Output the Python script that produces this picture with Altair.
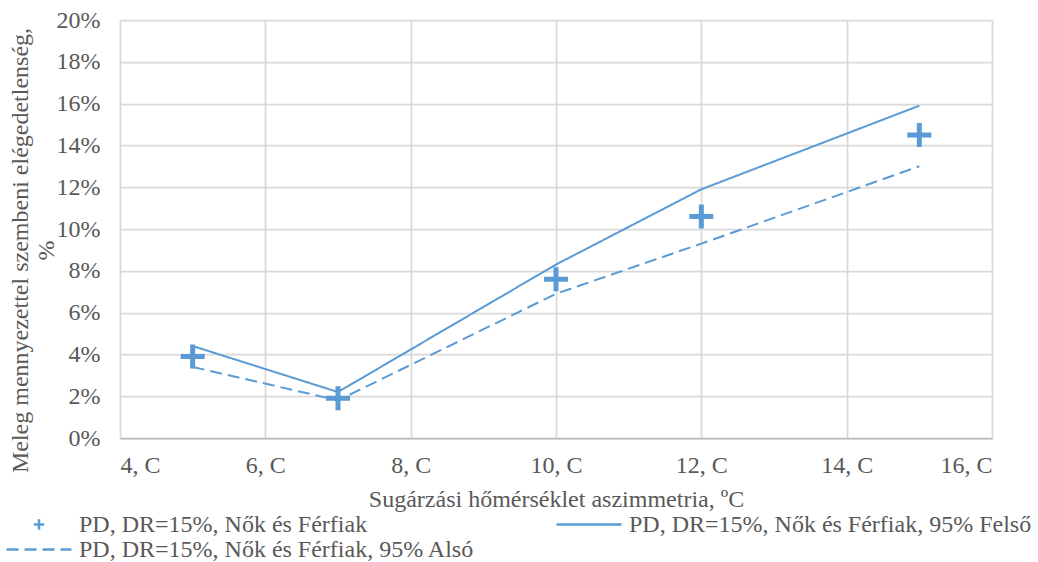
import altair as alt
import pandas as pd

# Radiant temperature asymmetry (°C) at which dissatisfaction was evaluated
asymmetry = [5, 7, 10, 12, 15]

# Percentage dissatisfied (%), measured values and 95% confidence bounds
pd_measured = [3.9, 1.9, 7.6, 10.6, 14.5]
pd_upper = [4.4, 2.2, 8.3, 11.9, 15.9]
pd_lower = [3.4, 1.8, 6.9, 9.3, 13.0]

series_names = [
    "PD, DR=15%, Nők és Férfiak",
    "PD, DR=15%, Nők és Férfiak, 95% Felső",
    "PD, DR=15%, Nők és Férfiak, 95% Alsó",
]
x_ticks = [4, 6, 8, 10, 12, 14, 16]
y_ticks = [0, 0.02, 0.04, 0.06, 0.08, 0.10, 0.12, 0.14, 0.16, 0.18, 0.20]

BLUE = "#5b9bd5"
FONT = "Liberation Serif"
TEXT = "#595959"
FS = 24
# thin plus drawn inside a small box so the legend glyph stays small
PLUS = "M-0.16,0H0.16M0,-0.16V0.16"

rows = []
for name, vals in zip(series_names, [pd_measured, pd_upper, pd_lower]):
    for xv, yv in zip(asymmetry, vals):
        rows.append({"x": xv, "y": yv / 100, "series": name})
df = pd.DataFrame(rows)

x_enc = alt.X(
    "x:Q",
    scale=alt.Scale(domain=[4, 16], nice=False),
    axis=alt.Axis(
        values=x_ticks,
        labelExpr="datum.value + ', C'",
        title="Sugárzási hőmérséklet aszimmetria, ºC",
        titlePadding=10,
        labelPadding=15,
    ),
)
y_enc = alt.Y(
    "y:Q",
    scale=alt.Scale(domain=[0, 0.2], nice=False),
    axis=alt.Axis(
        values=y_ticks,
        format=".0%",
        title=["Meleg mennyezettel szembeni elégedetlenség,", "%"],
        titleX=-100,
        titleY=230,
        titleAngle=270,
        titleAlign="center",
        titleBaseline="middle",
        titleLineHeight=26,
        labelPadding=20,
        domain=False,
    ),
)

# one shared legend filled row by row: two entries on the first row, the third below
legend = alt.Legend(
    title=None,
    values=series_names,
    orient="none",
    direction="horizontal",
    legendX=-115,
    legendY=492,
    columns=2,
    columnPadding=80,
    rowPadding=0,
    clipHeight=25,
    symbolSize=4225,
    symbolStrokeWidth=2.5,
    labelFont=FONT,
    labelFontSize=FS,
    labelColor=TEXT,
    labelLimit=0,
    labelOffset=6,
)

color = alt.Color(
    "series:N",
    scale=alt.Scale(domain=series_names, range=[BLUE, BLUE, BLUE]),
    legend=legend,
)
shape = alt.Shape(
    "series:N",
    scale=alt.Scale(domain=series_names, range=[PLUS, "stroke", "stroke"]),
    legend=legend,
)
dash = alt.StrokeDash(
    "series:N",
    scale=alt.Scale(domain=series_names, range=[[1, 0], [1, 0], [12, 6]]),
    legend=legend,
)

lines = (
    alt.Chart(df)
    .transform_filter(alt.datum.series != series_names[0])
    .mark_line(strokeWidth=2)
    .encode(x=x_enc, y=y_enc, color=color, strokeDash=dash, detail="series:N")
)

points = (
    alt.Chart(df)
    .transform_filter(alt.datum.series == series_names[0])
    .mark_point(filled=False, strokeWidth=5, size=22500, opacity=1, strokeCap="butt")
    .encode(x=x_enc, y=y_enc, color=color, shape=shape)
)

chart = (
    alt.layer(lines, points)
    .properties(
        width=872,
        height=418,
        autosize="none",
        padding={"left": 120, "top": 20, "right": 46, "bottom": 124},
        background="white",
    )
    .configure_view(strokeWidth=0)
    .configure_axis(
        labelFont=FONT,
        labelFontSize=FS,
        labelColor=TEXT,
        titleFont=FONT,
        titleFontSize=FS,
        titleFontWeight="normal",
        titleColor=TEXT,
        ticks=False,
        gridColor="#d9d9d9",
        gridWidth=1.75,
        domainColor="#bfbfbf",
        domainWidth=1.75,
    )
)

chart.save("out.html", embed_options={"renderer": "svg", "actions": False})
